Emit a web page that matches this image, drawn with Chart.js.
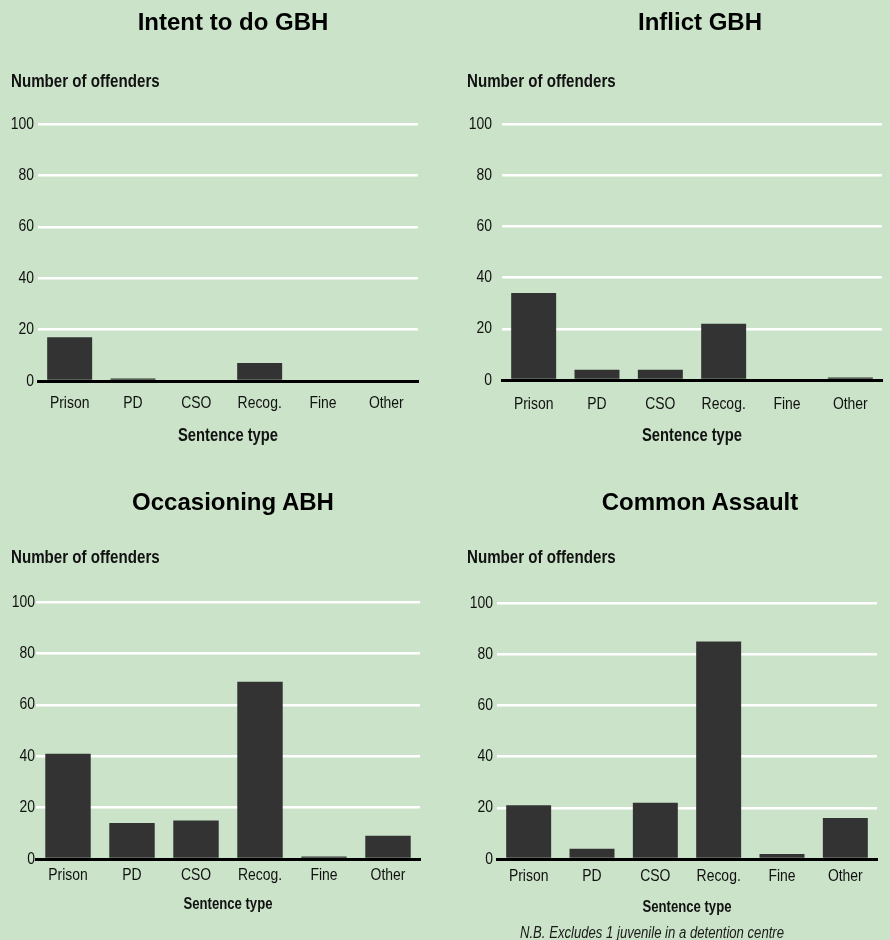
<!DOCTYPE html>
<html>
<head>
<meta charset="utf-8">
<title>Sentence type by offence</title>
<script src="https://cdn.jsdelivr.net/npm/chart.js@4.4.0/dist/chart.umd.min.js"></script>
<style>
  body { margin: 0; background: #cbe4c9; }
  #page { position: relative; width: 890px; height: 940px; background: #cbe4c9; overflow: hidden; }
  .panel { position: absolute; }
  .panel canvas { position: absolute; left: 0; top: 0; }
  .title { position: absolute; font: bold 24px "Liberation Sans", Arial, sans-serif; line-height: 1; color: #000; white-space: nowrap; transform: translate(-50%, -50%); }
  /* no narrow face installed, so squeeze the regular one */
  .ylab { position: absolute; font: bold 18px "Liberation Sans", Arial, sans-serif; line-height: 1; color: #111; white-space: nowrap; transform-origin: left center; transform: translateY(-50%) scaleX(0.84); }
  .note { position: absolute; font: italic 16px "Liberation Sans", Arial, sans-serif; line-height: 1; color: #1a1a1a; white-space: nowrap; transform: translate(-50%, -50%) scaleX(0.82); }
</style>
</head>
<body>
<div id="page">
  <div class="panel" style="left:0;top:0"><canvas id="c1" width="445" height="445"></canvas></div>
  <div class="panel" style="left:445px;top:0"><canvas id="c2" width="445" height="445"></canvas></div>
  <div class="panel" style="left:0;top:470px"><canvas id="c3" width="445" height="470"></canvas></div>
  <div class="panel" style="left:445px;top:470px"><canvas id="c4" width="445" height="470"></canvas></div>

  <div class="title" style="left:233px;top:22px">Intent to do GBH</div>
  <div class="title" style="left:700px;top:22px">Inflict GBH</div>
  <div class="title" style="left:233px;top:502px">Occasioning ABH</div>
  <div class="title" style="left:700px;top:502px">Common Assault</div>

  <div class="ylab" style="left:11px;top:81px">Number of offenders</div>
  <div class="ylab" style="left:467px;top:81px">Number of offenders</div>
  <div class="ylab" style="left:11px;top:557px">Number of offenders</div>
  <div class="ylab" style="left:467px;top:557px">Number of offenders</div>

  <div class="note" style="left:652px;top:933px">N.B. Excludes 1 juvenile in a detention centre</div>
</div>

<script>
const categories = ['Prison', 'PD', 'CSO', 'Recog.', 'Fine', 'Other'];
const intentGBH = [17, 1, 0, 7, 0, 0];
const inflictGBH = [34, 4, 4, 22, 0, 1];
const occasioningABH = [41, 14, 15, 69, 1, 9];
const commonAssault = [21, 4, 22, 85, 2, 16];
const yTicks = [0, 20, 40, 60, 80, 100];
const xAxisTitle = 'Sentence type';

const sans = "'Liberation Sans', Arial, sans-serif";

// the original uses a narrow face; squeeze canvas text horizontally instead
const squeezeText = {
  id: 'squeezeText',
  beforeInit(chart) {
    const ctx = chart.ctx;
    const fill = ctx.fillText.bind(ctx);
    ctx.fillText = function (text, x, y) {
      ctx.save();
      ctx.translate(x, y);
      ctx.scale(0.82, 1);
      fill(text, 0, 0);
      ctx.restore();
    };
  }
};

// box: chart area edges inside the canvas, plus a few spacing tweaks
function drawPanel(id, values, box) {
  const canvas = document.getElementById(id);
  const W = canvas.width, H = canvas.height;

  new Chart(canvas.getContext('2d'), {
    type: 'bar',
    data: {
      labels: categories,
      datasets: [{
        data: values,
        backgroundColor: '#333333',
        borderWidth: 0,
        barPercentage: 0.71,
        categoryPercentage: 1
      }]
    },
    options: {
      responsive: false,
      animation: false,
      layout: { padding: { left: 0, top: box.top, right: W - box.right, bottom: 0 } },
      plugins: { legend: { display: false }, tooltip: { enabled: false } },
      scales: {
        x: {
          grid: { display: false, drawTicks: false },
          border: { display: true, color: '#000', width: 3 },
          ticks: { color: '#111', font: { family: sans, size: 17 }, padding: box.xPad, maxRotation: 0, autoSkip: false },
          title: {
            display: true,
            text: xAxisTitle,
            color: '#111',
            font: { family: sans, size: box.titleSize, weight: 'bold', lineHeight: 1 },
            padding: { top: 0, bottom: box.titleBottom }
          },
          afterFit: s => { s.height = H - box.bottom; }
        },
        y: {
          min: 0,
          max: 100,
          afterBuildTicks: s => { s.ticks = yTicks.map(v => ({ value: v })); },
          grid: {
            drawTicks: false,
            color: c => (c.tick && c.tick.value === 0) ? 'rgba(0,0,0,0)' : '#ffffff',
            lineWidth: 2.5
          },
          border: { display: false },
          ticks: { color: '#111', font: { family: sans, size: 17 }, padding: box.yPad },
          afterFit: s => { s.width = box.left; }
        }
      }
    },
    plugins: [squeezeText]
  });
}

drawPanel('c1', intentGBH, { left: 38, right: 418, top: 124, bottom: 381, yPad: 4, xPad: 12, titleSize: 18, titleBottom: 0 });
drawPanel('c2', inflictGBH, { left: 57, right: 437, top: 124, bottom: 380, yPad: 10, xPad: 14, titleSize: 18, titleBottom: 0 });
drawPanel('c3', occasioningABH, { left: 36, right: 420, top: 132, bottom: 389, yPad: 1, xPad: 6, titleSize: 16, titleBottom: 27 });
drawPanel('c4', commonAssault, { left: 52, right: 432, top: 133, bottom: 389, yPad: 4, xPad: 7, titleSize: 16, titleBottom: 24 });
</script>
</body>
</html>
